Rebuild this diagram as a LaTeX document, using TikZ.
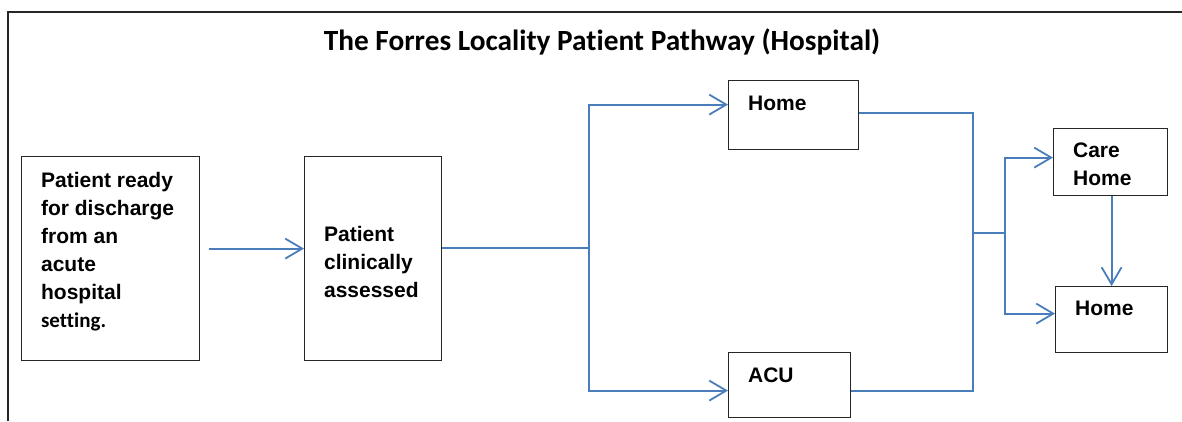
\documentclass[tikz,border=0pt]{standalone}
\usepackage{fontspec}
\setmainfont{Liberation Sans}
\newfontfamily\calibri[Ligatures=NoCommon]{Carlito}
\usetikzlibrary{arrows.meta,calc}

\definecolor{flowblue}{RGB}{74,126,187}

% Box contents: width, height, extra top space, text
\newcommand{\cardbody}[4]{%
  \parbox[c][#2][t]{#1}{%
    \vspace*{#3}\prevdepth=0pt
    \raggedright\leftskip=19.5pt\relax
    \fontsize{21}{28}\selectfont\bfseries #4}}

\tikzset{
  card/.style={draw=black!85, line width=1.2pt, inner sep=0pt, fill=white, anchor=north west},
  flow/.style={draw=flowblue, line width=1.8pt},
  arr/.style={flow, -{Straight Barb[length=17pt,width=20pt]}},
  frame/.style={draw=black!85, line width=1.2pt}
}

\begin{document}
\begin{tikzpicture}[x=1pt,y=-1pt]
  \useasboundingbox (0,0) rectangle (1182,421);

  % outer frame (top and left edges)
  \draw[frame] (8,421) -- (8,12) -- (1182,12);

  % heading
  \node[anchor=base, inner sep=0pt, font=\calibri\bfseries\fontsize{29.3}{35}\selectfont]
    (title) at (602,50) {The Forres Locality Patient Pathway (Hospital)};

  % boxes
  \node[card] (ready) at (21,156) {\cardbody{178pt}{204pt}{3pt}{%
    Patient ready\\for discharge\\from an\\acute\\hospital\\{\calibri setting.}}};
  \node[card] (assess) at (304,156) {\cardbody{137pt}{204pt}{57pt}{%
    Patient\\clinically\\assessed}};
  \node[card] (homeA) at (728,80) {\cardbody{130pt}{69pt}{2pt}{Home}};
  \node[card] (acu) at (728,352) {\cardbody{122pt}{65pt}{2pt}{ACU}};
  \node[card] (care) at (1053,128) {\cardbody{114pt}{67pt}{1pt}{Care\\Home}};
  \node[card] (homeB) at (1055,286) {\cardbody{112pt}{66pt}{1pt}{Home}};

  % junction points
  \coordinate (split) at (589,248);
  \coordinate (merge) at (973,233);
  \coordinate (fork) at (1005,233);
  \coordinate (start) at ([shift={(9pt,10pt)}]ready.east);

  % connectors
  \draw[arr] (start) -- (start -| assess.west);
  \draw[flow] (assess.east |- split) -- (split);
  \draw[arr] (split) |- ([yshift=10.5pt]homeA.west);
  \draw[arr] (split) |- ([yshift=-5.5pt]acu.west);
  \draw[flow] ([yshift=2.5pt]homeA.east) -| (merge) |- ([yshift=-5.5pt]acu.east);
  \draw[flow] (merge) -- (fork);
  \draw[arr] (fork) |- ([yshift=4.5pt]care.west);
  \draw[arr] (fork) |- ([yshift=6pt]homeB.west);
  \draw[arr] ([xshift=1pt]care.south) -- ([xshift=1pt]care.south |- homeB.north);
\end{tikzpicture}
\end{document}
